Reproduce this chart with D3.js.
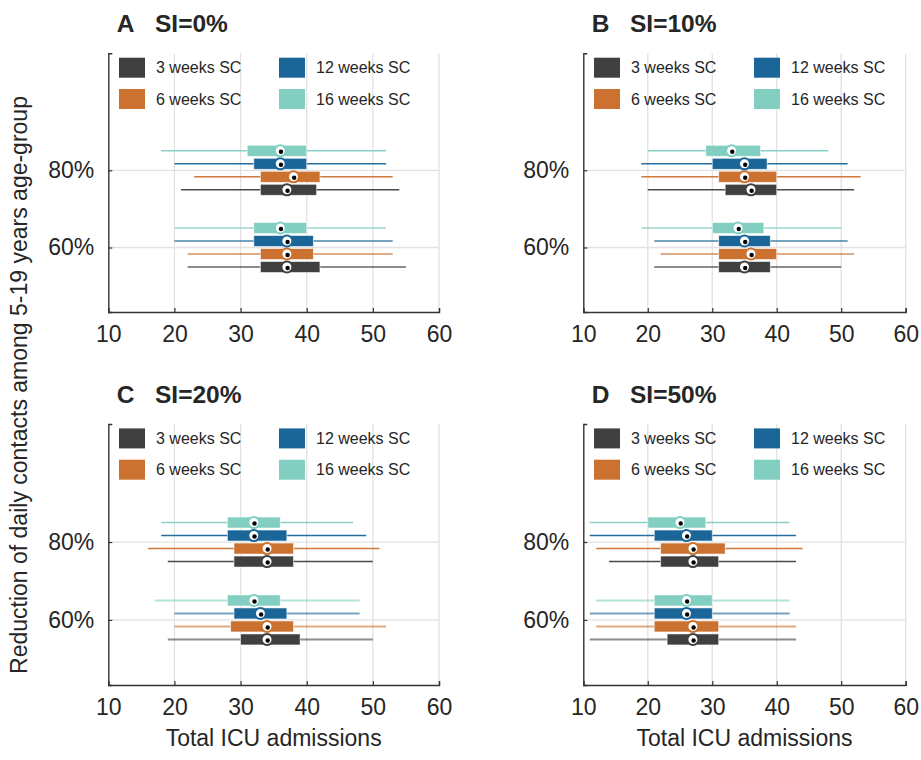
<!DOCTYPE html>
<html lang="en">
<head>
    <meta charset="utf-8" />
    <title>Total ICU admissions by school closure length</title>
    <script src="https://cdn.jsdelivr.net/npm/d3@7"></script>
    <style>
        body {
            margin: 0;
            background-color: #fff;
            font-family: "Liberation Sans", Arial, sans-serif;
        }
        svg text { fill: #262626; }
    </style>
</head>
<body>
<svg id="chart" width="921" height="760"></svg>

<script>
    // Chart data
    const panelLetters = ["A", "B", "C", "D"];
    const panelTitles = ["SI=0%", "SI=10%", "SI=20%", "SI=50%"];
    const seriesNames = ["3 weeks SC", "6 weeks SC", "12 weeks SC", "16 weeks SC"];
    const seriesColors = ["#404040", "#cc7230", "#1b6699", "#82cfc1"];
    const reductions = [60, 80];
    const xTicks = [10, 20, 30, 40, 50, 60];

    // rows: 60%, 80% reduction; columns: 3, 6, 12, 16 weeks SC
    const lowA = [[22, 22, 20, 20], [21, 23, 20, 18]];
    const q1A = [[33, 33, 32, 32], [33, 33, 32, 31]];
    const medA = [[37, 37, 37, 36], [37, 38, 36, 36]];
    const q3A = [[42, 41, 41, 40], [41.5, 42, 40, 40]];
    const highA = [[55, 53, 53, 52], [54, 53, 52, 52]];

    const lowB = [[21, 22, 21, 19], [20, 19, 19, 20]];
    const q1B = [[31, 31, 31, 30], [32, 31, 30, 29]];
    const medB = [[35, 36, 35, 34], [36, 35, 35, 33]];
    const q3B = [[39, 40, 39, 38], [40, 40, 38.5, 37.5]];
    const highB = [[50, 52, 51, 50], [52, 53, 51, 48]];

    const lowC = [[19, 20, 20, 17], [19, 16, 18, 18]];
    const q1C = [[30, 28.5, 29, 28], [29, 29, 28, 28]];
    const medC = [[34, 34, 33, 32], [34, 34, 32, 32]];
    const q3C = [[39, 38, 37, 36], [38, 38, 37, 36]];
    const highC = [[50, 52, 48, 48], [50, 51, 49, 47]];

    const lowD = [[11, 12, 11, 12], [14, 12, 11, 11]];
    const q1D = [[23, 21, 21, 21], [22, 22, 21, 20]];
    const medD = [[27, 27, 26, 26], [27, 27, 26, 25]];
    const q3D = [[31, 31, 30, 30], [31, 32, 30, 29]];
    const highD = [[43, 43, 42, 42], [43, 44, 43, 42]];

    const lows = [lowA, lowB, lowC, lowD];
    const q1s = [q1A, q1B, q1C, q1D];
    const meds = [medA, medB, medC, medD];
    const q3s = [q3A, q3B, q3C, q3D];
    const highs = [highA, highB, highC, highD];

    // Panel frames (left, right, top, bottom of the axes)
    const frames = [
        { left: 108.3, right: 439, top: 53.3, bottom: 312 },
        { left: 583.3, right: 905.7, top: 53.3, bottom: 312 },
        { left: 108.3, right: 439, top: 424, bottom: 685 },
        { left: 583.3, right: 905.7, top: 424, bottom: 685 }
    ];

    const svg = d3.select("#chart");

    // vertical offset of each series inside a reduction group (16 weeks on top)
    const seriesOffset = d3.scalePoint()
        .domain(d3.range(seriesNames.length))
        .range([19.5, -19.5]);
    const boxHeight = 11;

    frames.forEach((f, p) => {
        const g = svg.append("g");

        const x = d3.scaleLinear().domain([10, 60]).range([f.left, f.right]);
        const y = d3.scaleLinear().domain([43.3, 110.3]).range([f.bottom, f.top]);

        // Grid lines
        g.append("g").selectAll("line")
            .data(xTicks.slice(1))
            .enter().append("line")
            .attr("x1", d => x(d)).attr("x2", d => x(d))
            .attr("y1", f.top).attr("y2", f.bottom)
            .attr("stroke", "#e2e2e2").attr("stroke-width", 1.3);
        g.append("g").selectAll("line")
            .data(reductions)
            .enter().append("line")
            .attr("x1", f.left).attr("x2", f.right)
            .attr("y1", d => y(d)).attr("y2", d => y(d))
            .attr("stroke", "#e2e2e2").attr("stroke-width", 1.3);

        // Axes (left and bottom only, ticks pointing inward)
        const xAxis = d3.axisBottom(x).tickValues(xTicks).tickSize(-4).tickPadding(14);
        const gx = g.append("g")
            .attr("transform", `translate(0,${f.bottom})`)
            .call(xAxis);
        gx.select(".domain").attr("stroke", "#333").attr("stroke-width", 1.4);
        gx.selectAll(".tick line").attr("stroke", "#333").attr("stroke-width", 1.2);
        gx.selectAll(".tick text")
            .attr("font-size", 23)
            .attr("font-family", "Liberation Sans, Arial, sans-serif")
            .attr("fill", "#262626");

        const yAxis = d3.axisLeft(y).tickValues(reductions).tickSize(-4).tickPadding(14)
            .tickFormat(d => d + "%");
        const gy = g.append("g")
            .attr("transform", `translate(${f.left},0)`)
            .call(yAxis);
        gy.select(".domain").attr("stroke", "#333").attr("stroke-width", 1.4);
        gy.selectAll(".tick line").attr("stroke", "#333").attr("stroke-width", 1.2);
        gy.selectAll(".tick text")
            .attr("font-size", 23)
            .attr("font-family", "Liberation Sans, Arial, sans-serif")
            .attr("fill", "#262626");

        // Build box records for this panel
        const boxes = [];
        reductions.forEach((r, ri) => {
            seriesNames.forEach((s, si) => {
                boxes.push({
                    r: r, ri: ri, si: si,
                    low: lows[p][ri][si], q1: q1s[p][ri][si], med: meds[p][ri][si],
                    q3: q3s[p][ri][si], high: highs[p][ri][si]
                });
            });
        });
        const cy = d => y(d.r) + seriesOffset(d.si);

        // Whiskers
        g.append("g").selectAll("line")
            .data(boxes)
            .enter().append("line")
            .attr("x1", d => x(d.low)).attr("x2", d => x(d.high))
            .attr("y1", cy).attr("y2", cy)
            .attr("stroke", d => seriesColors[d.si])
            .attr("stroke-width", d => d.ri === 0 ? 2 : 1.4)
            .attr("stroke-opacity", d => d.ri === 0 ? 0.6 : 0.95);

        // Boxes
        g.append("g").selectAll("rect")
            .data(boxes)
            .enter().append("rect")
            .attr("x", d => x(d.q1))
            .attr("width", d => x(d.q3) - x(d.q1))
            .attr("y", d => cy(d) - boxHeight / 2)
            .attr("height", boxHeight)
            .attr("fill", d => seriesColors[d.si])
            .attr("stroke", "#fff").attr("stroke-width", 0.8).attr("stroke-opacity", 0.7);

        // Median markers: coloured ring, white centre, black dot
        const medMarks = g.append("g").selectAll("g")
            .data(boxes)
            .enter().append("g");
        medMarks.append("circle")
            .attr("cx", d => x(d.med)).attr("cy", cy)
            .attr("r", 5.5)
            .attr("fill", "#fff")
            .attr("stroke", d => seriesColors[d.si])
            .attr("stroke-width", 2);
        medMarks.append("circle")
            .attr("cx", d => x(d.med) + 0.7).attr("cy", d => cy(d) + 1)
            .attr("r", 2.2)
            .attr("fill", "#000");

        // Legend
        const legend = g.append("g").selectAll("g")
            .data(seriesNames)
            .enter().append("g")
            .attr("transform", (d, i) =>
                `translate(${f.left + 10.7 + Math.floor(i / 2) * 160},${f.top + 14.4 + (i % 2) * 31.3})`);
        legend.append("rect")
            .attr("x", 0).attr("y", -10)
            .attr("width", 26).attr("height", 20)
            .attr("fill", (d, i) => seriesColors[i]);
        legend.append("text")
            .attr("x", 37).attr("y", 5.7)
            .attr("font-size", 16)
            .text(d => d);

        // Panel title
        g.append("text")
            .attr("x", f.left + 8.4).attr("y", f.top - 21)
            .attr("font-size", 24.5).attr("font-weight", "bold")
            .text(panelLetters[p]);
        g.append("text")
            .attr("x", f.left + 46.7).attr("y", f.top - 21)
            .attr("font-size", 24.5).attr("font-weight", "bold")
            .text(panelTitles[p]);

        // x label on bottom panels
        if (p >= 2) {
            g.append("text")
                .attr("x", (f.left + f.right) / 2).attr("y", f.bottom + 60.5)
                .attr("text-anchor", "middle")
                .attr("font-size", 23)
                .text("Total ICU admissions");
        }
    });

    // Shared y label
    svg.append("text")
        .attr("transform", "translate(26.6,385) rotate(-90)")
        .attr("text-anchor", "middle")
        .attr("font-size", 23)
        .text("Reduction of daily contacts among 5-19 years age-group");
</script>
</body>
</html>
